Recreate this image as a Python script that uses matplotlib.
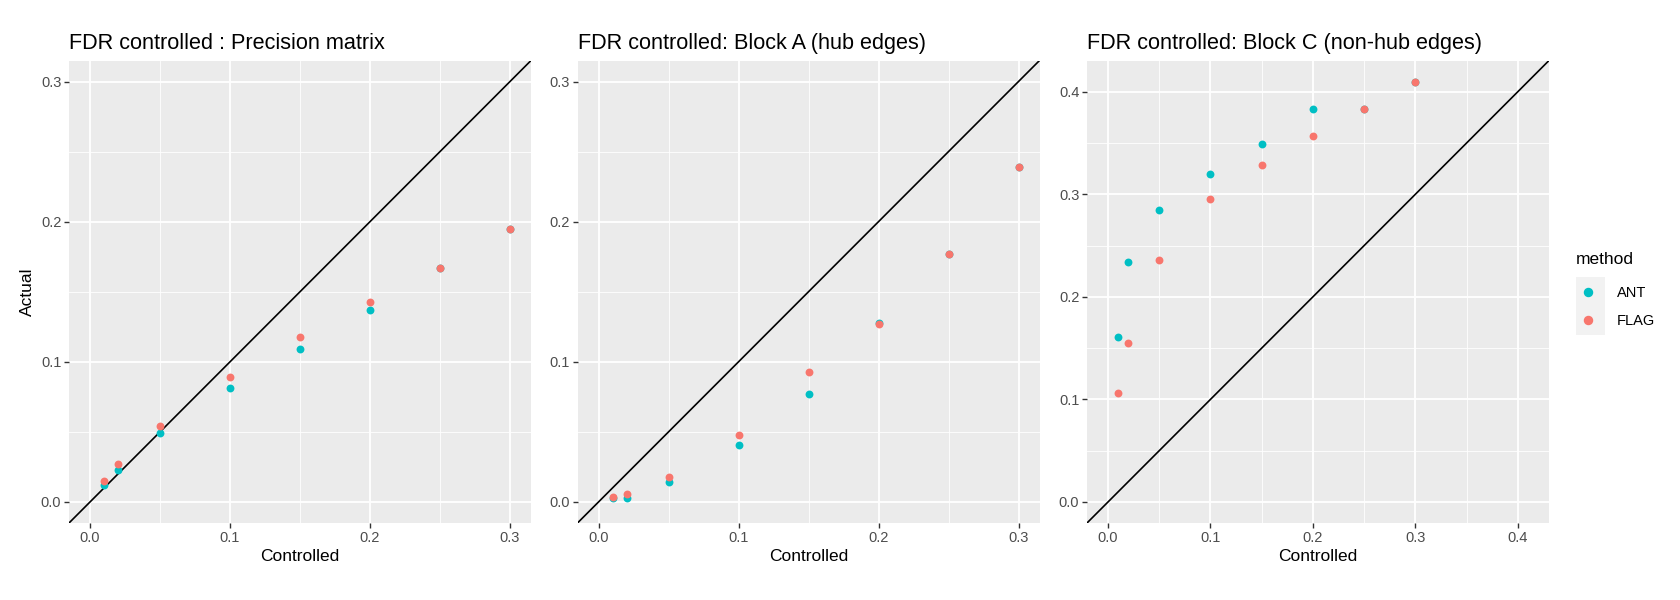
import matplotlib.pyplot as plt
from matplotlib.lines import Line2D
from matplotlib.patches import Rectangle
from matplotlib.ticker import MultipleLocator

plt.rcParams['font.family'] = ['Liberation Sans', 'DejaVu Sans']

controlled = [0.01, 0.02, 0.05, 0.1, 0.15, 0.2, 0.25, 0.3]

# actual FDR
prec_ant = [0.012, 0.023, 0.049, 0.081, 0.109, 0.137, 0.167, 0.195]
prec_flag = [0.015, 0.027, 0.054, 0.089, 0.118, 0.143, 0.167, 0.195]

hub_ant = [0.003, 0.003, 0.0145, 0.041, 0.077, 0.128, 0.177, 0.239]
hub_flag = [0.0033, 0.0057, 0.018, 0.0475, 0.0926, 0.127, 0.177, 0.239]

nonhub_ant = [0.161, 0.234, 0.285, 0.320, 0.349, 0.383, 0.383, 0.410]
nonhub_flag = [0.106, 0.155, 0.236, 0.2955, 0.329, 0.357, 0.383, 0.410]

titles = ["FDR controlled : Precision matrix",
          "FDR controlled: Block A (hub edges)",
          "FDR controlled: Block C (non-hub edges)"]
panels = [(prec_ant, prec_flag), (hub_ant, hub_flag), (nonhub_ant, nonhub_flag)]
limits = [0.3, 0.3, 0.41]

ANT_COL = "#00BFC4"
FLAG_COL = "#F8766D"

fig = plt.figure(figsize=(16.8, 6), dpi=100)
lefts = [69 / 1680, 577.5 / 1680, 1087 / 1680]
w = 462 / 1680
b = 77 / 600
h = 462.5 / 600

for i, (left, (ant, flag)) in enumerate(zip(lefts, panels)):
    ax = fig.add_axes([left, b, w, h])
    ax.set_facecolor("#EBEBEB")
    for s in ax.spines.values():
        s.set_visible(False)
    lim = limits[i]
    pad = lim * 0.05
    ax.set_xlim(-pad, lim + pad)
    ax.set_ylim(-pad, lim + pad)
    ax.xaxis.set_major_locator(MultipleLocator(0.1))
    ax.yaxis.set_major_locator(MultipleLocator(0.1))
    ax.xaxis.set_minor_locator(MultipleLocator(0.05))
    ax.yaxis.set_minor_locator(MultipleLocator(0.05))
    ax.grid(which="major", color="white", lw=1.3)
    ax.grid(which="minor", color="white", lw=0.6)
    ax.set_axisbelow(True)
    ax.tick_params(which="major", length=3.5, width=1, color="#333333",
                   labelcolor="#4D4D4D", labelsize=10.5, pad=2)
    ax.tick_params(which="minor", length=0)
    ax.xaxis.set_major_formatter(lambda v, p: f"{v:.1f}")
    ax.yaxis.set_major_formatter(lambda v, p: f"{v:.1f}")

    ax.axline((0, 0), slope=1, color="black", lw=1.2, zorder=2)
    ax.scatter(controlled, ant, s=32, color=ANT_COL, zorder=3, linewidths=0)
    ax.scatter(controlled, flag, s=32, color=FLAG_COL, zorder=3, linewidths=0)

    ax.set_title(titles[i], loc="left", fontsize=15.6, pad=8)
    ax.set_xlabel("Controlled", fontsize=12.5, labelpad=3)
    if i == 0:
        ax.set_ylabel("Actual", fontsize=12.5, labelpad=4)

# legend
fig.text(1576 / 1680, 1 - 260 / 600, "method", fontsize=12.5, va="center", ha="left")
fig.patches.append(Rectangle((1576 / 1680, 1 - 335 / 600), 29 / 1680, 58 / 600,
                             transform=fig.transFigure, facecolor="#F2F2F2",
                             edgecolor="none", zorder=0))
handles = [Line2D([], [], marker="o", ls="none", color=ANT_COL, markersize=5.8),
           Line2D([], [], marker="o", ls="none", color=FLAG_COL, markersize=5.8)]
fig.legend(handles, ["ANT", "FLAG"], loc="upper left",
           bbox_to_anchor=(1573 / 1680, 1 - 283 / 600), frameon=False,
           fontsize=10.5, handlelength=1.6, handletextpad=1.2, labelspacing=0.95,
           borderaxespad=0, borderpad=0.2)

fig.savefig("out.png", dpi=100)
